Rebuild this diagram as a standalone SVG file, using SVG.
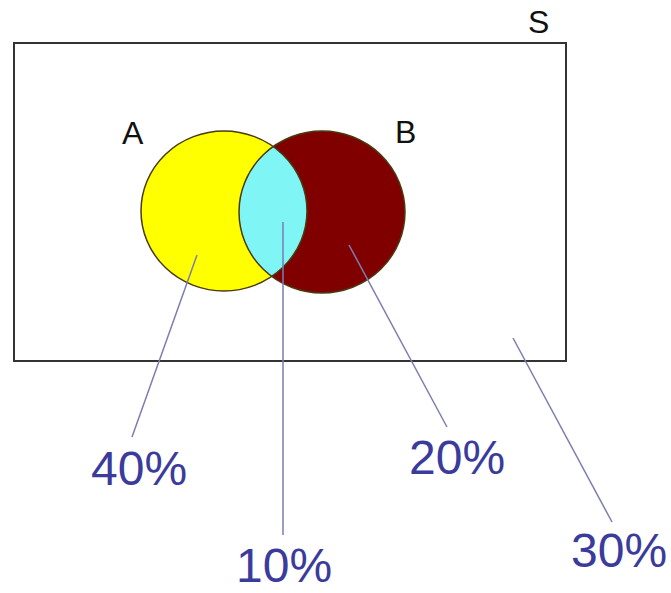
<svg xmlns="http://www.w3.org/2000/svg" width="671" height="593" viewBox="0 0 671 593">
<style>
.lbl{font-family:"Liberation Sans",Arial,sans-serif;font-size:32px;fill:#111}
.pct{font-family:"Liberation Sans",Arial,sans-serif;font-size:48px;fill:#3b3b9c}
.lead{stroke:#7d7db0;stroke-width:1.5;fill:none}
.ring{fill:none;stroke:#4a3a10;stroke-width:1.5}
</style>
<defs>
<clipPath id="clipA"><ellipse cx="224" cy="211" rx="83" ry="80"/></clipPath>
</defs>
<rect width="671" height="593" fill="#ffffff"/>
<g id="S">
<rect x="14" y="43" width="552" height="318" fill="#ffffff" stroke="#333333" stroke-width="2"/>
<text class="lbl" x="528" y="33">S</text>
</g>
<g id="A">
<ellipse cx="224" cy="211" rx="83" ry="80" fill="#ffff00"/>
<text class="lbl" x="122" y="144">A</text>
</g>
<g id="B">
<ellipse cx="322" cy="212" rx="83" ry="81" fill="#800000"/>
<text class="lbl" x="395" y="143">B</text>
</g>
<g id="AB">
<ellipse cx="322" cy="212" rx="83" ry="81" fill="#7ff5f5" clip-path="url(#clipA)"/>
<ellipse class="ring" cx="224" cy="211" rx="83" ry="80"/>
<ellipse class="ring" cx="322" cy="212" rx="83" ry="81"/>
</g>
<g id="connectors">
<line class="lead" x1="197" y1="255" x2="132" y2="437"/>
<line class="lead" x1="283" y1="222" x2="283" y2="535"/>
<line class="lead" x1="349" y1="245" x2="447" y2="427"/>
<line class="lead" x1="513" y1="338" x2="612" y2="522"/>
</g>
<g id="labels">
<text class="pct" x="91" y="485">40%</text>
<text class="pct" x="236" y="582">10%</text>
<text class="pct" x="409" y="474">20%</text>
<text class="pct" x="571" y="567">30%</text>
</g>
</svg>
